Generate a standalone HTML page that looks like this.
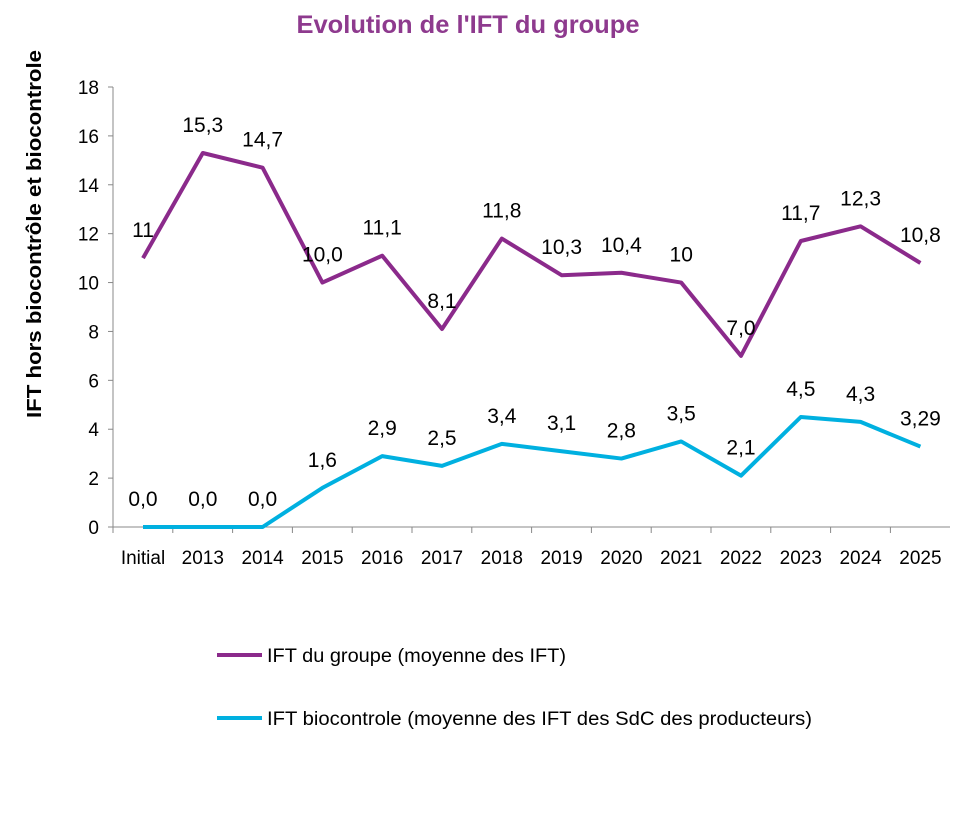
<!DOCTYPE html>
<html><head><meta charset="utf-8"><style>body{margin:0;background:#fff}</style></head><body>
<svg width="953" height="808" xmlns="http://www.w3.org/2000/svg" font-family="Liberation Sans, sans-serif">
<rect width="953" height="808" fill="#fff"/>
<text x="468" y="33" text-anchor="middle" font-size="25" font-weight="bold" fill="#8E3A8E" textLength="343" lengthAdjust="spacingAndGlyphs">Evolution de l'IFT du groupe</text>
<text transform="translate(41,234) rotate(-90)" text-anchor="middle" font-size="20" font-weight="bold" fill="#000" textLength="368" lengthAdjust="spacingAndGlyphs">IFT  hors biocontrôle et biocontrole</text>
<g stroke="#888" stroke-width="1">
<line x1="113" y1="87" x2="113" y2="527"/>
<line x1="113" y1="527" x2="950" y2="527"/>
</g>
<g font-size="19" fill="#000" text-anchor="end" id="yt"></g>
<g font-size="19" fill="#000" text-anchor="middle" id="xt"></g>
<g id="lines"></g>
<g font-size="21" fill="#000" text-anchor="middle" id="lb"></g>
<line x1="217" y1="655" x2="262" y2="655" stroke="#8B2A8B" stroke-width="4"/>
<text x="267" y="662" font-size="19" textLength="299" lengthAdjust="spacingAndGlyphs">IFT du groupe (moyenne des IFT)</text>
<line x1="217" y1="718" x2="262" y2="718" stroke="#00B0E0" stroke-width="4"/>
<text x="267" y="725" font-size="19" textLength="545" lengthAdjust="spacingAndGlyphs">IFT biocontrole (moyenne des IFT des SdC des producteurs)</text>
<script>
var ns="http://www.w3.org/2000/svg";
function el(p,t,a,txt){var e=document.createElementNS(ns,t);for(var k in a)e.setAttribute(k,a[k]);if(txt!==undefined)e.textContent=txt;document.getElementById(p).appendChild(e);}
function Y(v){return 527-v*440/18;}
for(var v=0;v<=18;v+=2){el('yt','text',{x:99,y:Y(v)+7},String(v));el('yt','line',{x1:108,x2:113,y1:Y(v),y2:Y(v),stroke:'#888'});}
var cats=["Initial","2013","2014","2015","2016","2017","2018","2019","2020","2021","2022","2023","2024","2025"];
function X(i){return 143+i*59.8;}
cats.forEach(function(c,i){el('xt','text',{x:X(i),y:564},c);el('xt','line',{x1:113+59.8*i,x2:113+59.8*i,y1:527,y2:533,stroke:'#888'});});
var p=[11,15.3,14.7,10,11.1,8.1,11.8,10.3,10.4,10,7,11.7,12.3,10.8];
var pl=["11","15,3","14,7","10,0","11,1","8,1","11,8","10,3","10,4","10","7,0","11,7","12,3","10,8"];
var b=[0,0,0,1.6,2.9,2.5,3.4,3.1,2.8,3.5,2.1,4.5,4.3,3.29];
var bl=["0,0","0,0","0,0","1,6","2,9","2,5","3,4","3,1","2,8","3,5","2,1","4,5","4,3","3,29"];
el('lines','polyline',{points:p.map(function(v,i){return X(i)+','+Y(v)}).join(' '),fill:'none',stroke:'#8B2A8B','stroke-width':4,'stroke-linejoin':'round'});
el('lines','polyline',{points:b.map(function(v,i){return X(i)+','+Y(v)}).join(' '),fill:'none',stroke:'#00B0E0','stroke-width':4,'stroke-linejoin':'round'});
p.forEach(function(v,i){el('lb','text',{x:X(i),y:Y(v)-21},pl[i]);});
b.forEach(function(v,i){el('lb','text',{x:X(i),y:Y(v)-21},bl[i]);});
</script>
</svg>
</body></html>
